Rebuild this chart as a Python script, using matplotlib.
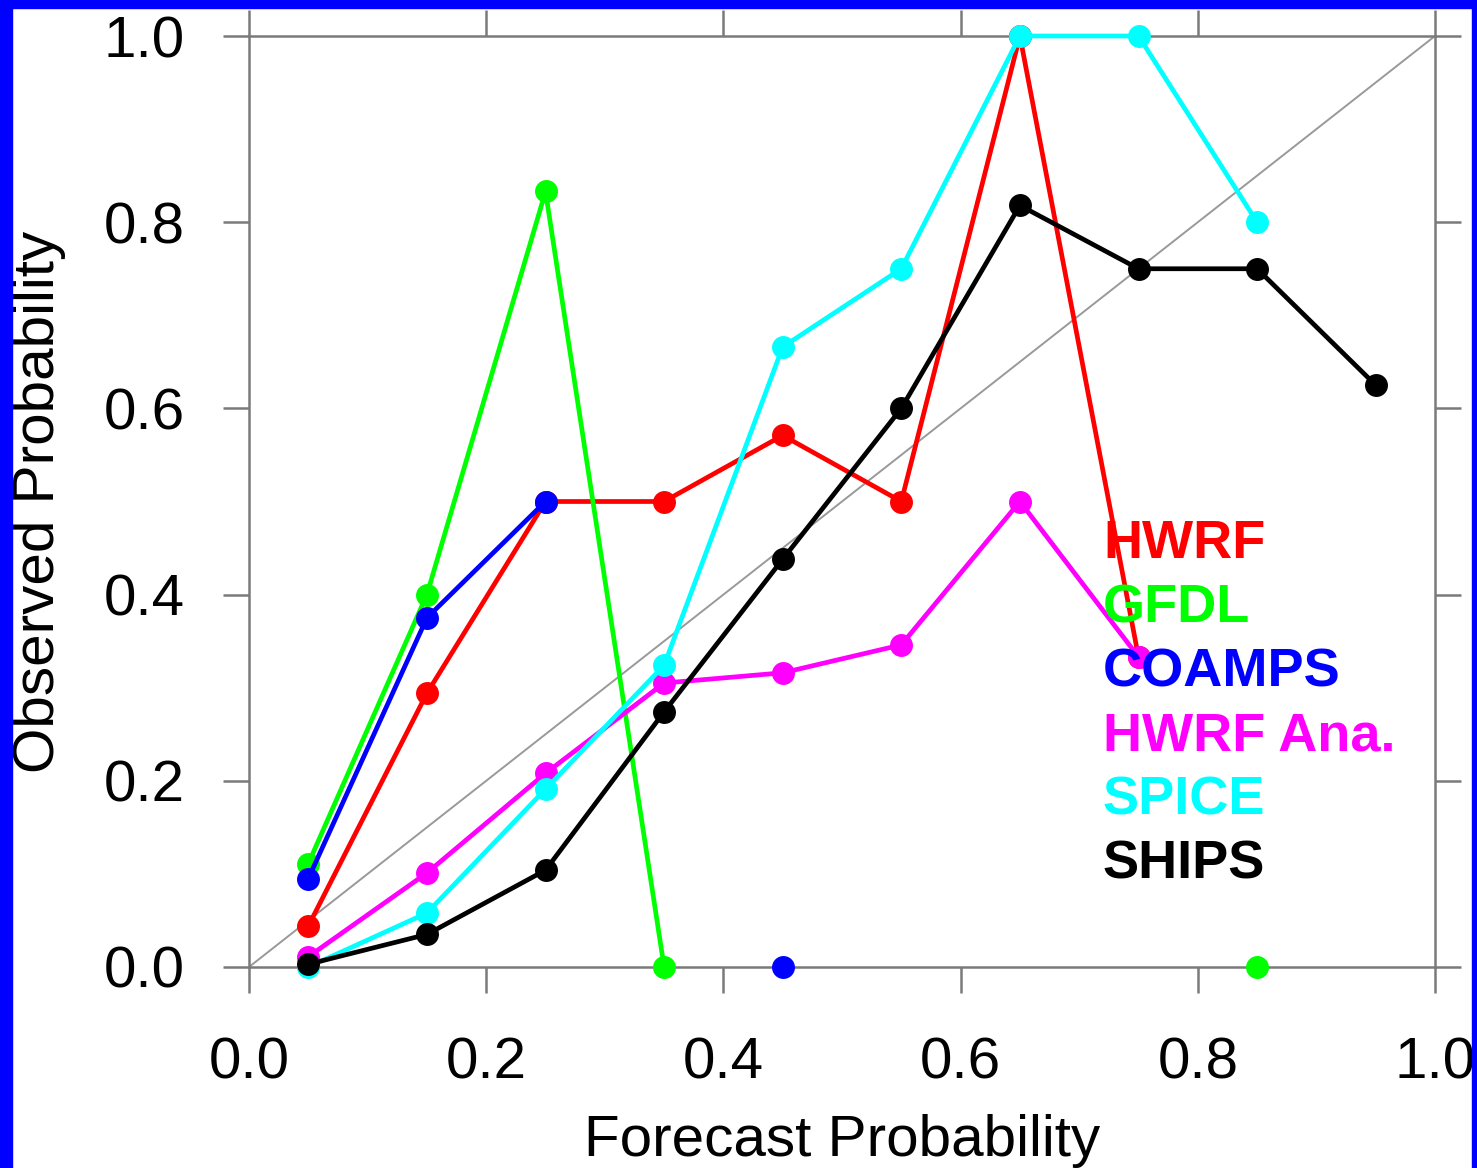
import numpy as np
import matplotlib
matplotlib.use('Agg')
import matplotlib.pyplot as plt
from matplotlib.patches import Rectangle

plt.rcParams['font.family'] = ['Liberation Sans', 'DejaVu Sans']

# forecast probability bins (bin centres)
forecast = [0.05, 0.15, 0.25, 0.35, 0.45, 0.55, 0.65, 0.75, 0.85, 0.95]
nan = np.nan

# observed probability per model (nan = no forecasts in that bin)
hwrf     = [0.044, 0.294, 0.5, 0.5, 0.571, 0.5, 1.0, 0.333, nan, nan]
gfdl     = [0.111, 0.4, 0.833, 0.0, nan, nan, nan, nan, 0.0, nan]
coamps   = [0.095, 0.375, 0.5, nan, 0.0, nan, nan, nan, nan, nan]
hwrf_ana = [0.011, 0.101, 0.208, 0.305, 0.316, 0.346, 0.5, 0.333, nan, nan]
spice    = [0.0, 0.058, 0.191, 0.324, 0.666, 0.75, 1.0, 1.0, 0.8, nan]
ships    = [0.003, 0.035, 0.104, 0.274, 0.438, 0.6, 0.818, 0.75, 0.75, 0.625]

names = ['HWRF', 'GFDL', 'COAMPS', 'HWRF Ana.', 'SPICE', 'SHIPS']
series = [hwrf, gfdl, coamps, hwrf_ana, spice, ships]
colors = ['#ff0000', '#00ff00', '#0000ff', '#ff00ff', '#00ffff', '#000000']

ticks = [0.0, 0.2, 0.4, 0.6, 0.8, 1.0]
tick_labels = ['0.0', '0.2', '0.4', '0.6', '0.8', '1.0']

W, H = 1477, 1168
fig = plt.figure(figsize=(W / 100, H / 100), dpi=100)
ax = fig.add_axes([249 / W, 201 / H, 1186 / W, 931 / H])

# perfect reliability diagonal
ax.plot([0, 1], [0, 1], color='#999999', lw=1.4, zorder=1)

for vals, c in zip(series, colors):
    ax.plot(forecast, vals, color=c, lw=3.4, marker='o', markersize=15.5,
            clip_on=False, zorder=3)

ax.set_xlim(0, 1)
ax.set_ylim(0, 1)
ax.set_xticks(ticks)
ax.set_xticklabels(tick_labels)
ax.set_yticks(ticks)
ax.set_yticklabels(tick_labels)

grey = '#7a7a7a'
for s in ax.spines.values():
    s.set_color(grey)
    s.set_linewidth(1.8)
ax.tick_params(which='both', direction='out', length=19, width=1.8, color=grey,
               top=True, right=True, labelsize=42)
ax.tick_params(axis='x', pad=31)
ax.tick_params(axis='y', pad=27)

ax.set_xlabel('Forecast Probability', fontsize=42, labelpad=17)
ax.set_ylabel('Observed Probability', fontsize=42, labelpad=27)

# model names as a coloured text legend
for i, (name, c) in enumerate(zip(names, colors)):
    ax.text(0.72, 0.439 - i * 0.0688, name, color=c, fontsize=39,
            fontweight='bold', transform=ax.transAxes, va='baseline',
            ha='left', zorder=4)

# blue frame around the image
blue = '#0000ff'
fig.patches.append(Rectangle((0, 0), 12 / W, 1, transform=fig.transFigure,
                             color=blue, zorder=10))
fig.patches.append(Rectangle((0, 1 - 8 / H), 1, 8 / H, transform=fig.transFigure,
                             color=blue, zorder=10))
fig.patches.append(Rectangle((1 - 5 / W, 0), 5 / W, 1, transform=fig.transFigure,
                             color=blue, zorder=10))

fig.savefig('out.png', dpi=100)
